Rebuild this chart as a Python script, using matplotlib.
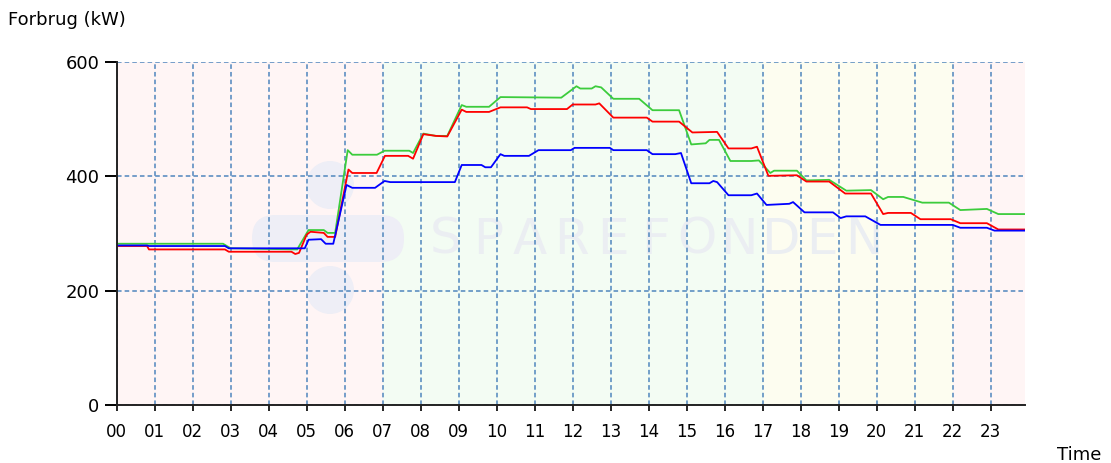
import matplotlib.pyplot as plt
from matplotlib.patches import Circle, FancyBboxPatch

# Consumption per hour of day (kW), breakpoints
GREEN_T = [0, 2.8, 3.0, 4.75, 5.05, 5.45, 5.55, 5.75, 6.08, 6.2, 6.85, 7.05, 7.7,
           7.8, 8.07, 8.4, 8.7, 9.08, 9.2, 9.8, 10.1, 11.7, 12.1, 12.2, 12.5, 12.6,
           12.75, 13.07, 13.75, 14.1, 14.8, 15.12, 15.5, 15.6, 15.85, 16.15, 16.7,
           16.9, 17.2, 17.3, 17.9, 18.15, 18.75, 19.2, 19.85, 20.17, 20.3, 20.7,
           21.2, 21.9, 22.2, 22.9, 23.2, 23.9]
GREEN_V = [282, 282, 274, 272, 306, 306, 301, 301, 446, 438, 438, 445, 445,
           441, 475, 471, 471, 525, 522, 522, 539, 538, 558, 554, 554, 558,
           556, 536, 536, 516, 516, 456, 458, 464, 464, 427, 427,
           428, 406, 410, 410, 393, 394, 375, 376, 360, 364, 364,
           354, 354, 341, 343, 334, 334]

RED_T = [0, 0.8, 0.85, 2.85, 2.95, 4.6, 4.7, 4.8, 5.0, 5.1, 5.45, 5.55, 5.75,
         6.1, 6.2, 6.84, 7.06, 7.67, 7.8, 8.07, 8.4, 8.7, 9.08, 9.2, 9.8, 10.1,
         10.8, 10.9, 11.85, 12.0, 12.6, 12.7, 13.07, 13.95, 14.1, 14.8, 15.15,
         15.8, 16.1, 16.7, 16.85, 17.15, 17.9, 18.15, 18.75, 19.17, 19.85, 20.17,
         20.3, 20.9, 21.15, 21.95, 22.2, 22.9, 23.2, 23.9]
RED_V = [278, 278, 272, 272, 268, 268, 264, 266, 298, 303, 301, 294, 294,
         412, 406, 406, 436, 436, 431, 474, 471, 470, 517, 513, 513, 521,
         521, 518, 518, 526, 526, 528, 503, 503, 496, 496, 477,
         478, 449, 449, 452, 401, 402, 391, 391, 370, 370, 334,
         336, 336, 325, 325, 318, 318, 307, 307]

BLUE_T = [0, 0.8, 0.85, 2.85, 2.95, 4.95, 5.05, 5.38, 5.5, 5.7, 6.05, 6.2, 6.8,
          7.05, 7.2, 8.9, 9.08, 9.6, 9.7, 9.85, 10.1, 10.2, 10.85, 11.1, 11.95,
          12.05, 12.98, 13.07, 13.95, 14.1, 14.7, 14.85, 15.12, 15.6, 15.7,
          15.8, 16.1, 16.7, 16.85, 17.1, 17.7, 17.8, 18.1, 18.85, 19.05, 19.2,
          19.7, 20.1, 22.0, 22.2, 22.9, 23.1, 23.9]
BLUE_V = [279, 279, 278, 278, 274, 274, 289, 290, 282, 282, 385, 380, 380,
          392, 390, 390, 420, 420, 416, 416, 439, 436, 436, 446, 446,
          450, 450, 446, 446, 439, 439, 441, 388, 388, 392,
          390, 367, 367, 370, 350, 352, 355, 337, 337, 327, 330,
          330, 315, 315, 310, 310, 305, 305]

HOUR_LABELS = [f"{h:02d}" for h in range(24)]
Y_TICKS = [0, 200, 400, 600]

# tariff periods shaded in the background (start, end, colour)
BANDS = [(0, 7, "#fff5f5"), (7, 17, "#f3fcf3"), (17, 22, "#fdfdf0"), (22, 23.9, "#fff5f5")]

WATERMARK = "SPAREFONDEN"
FONT = 13

fig = plt.figure(figsize=(11.11, 4.63), dpi=100)
ax = fig.add_axes([0.105, 0.126, 0.8175, 0.7395])

for start, end, color in BANDS:
    ax.axvspan(start, end, color=color, zorder=0, lw=0)

# faint watermark logo + letters (placed in figure inches so circles stay round)
inch = fig.dpi_scale_trans
for cy in (2.78, 1.73):
    ax.add_patch(Circle((3.3, cy), 0.24, transform=inch, color="#eeeef6",
                        zorder=0.5, lw=0))
ax.add_patch(FancyBboxPatch((2.52, 2.01), 1.52, 0.47, transform=inch,
                            boxstyle="round,pad=0,rounding_size=0.23",
                            color="#eeeef6", zorder=0.5, lw=0))
for i, ch in enumerate(WATERMARK):
    ax.text(4.46 + i * 0.418, 2.23, ch, transform=inch, fontsize=36,
            color="#ebeef2", ha="center", va="center", zorder=0.5)

ax.plot(GREEN_T, GREEN_V, color="#3ccc3c", lw=1.3, zorder=3)
ax.plot(RED_T, RED_V, color="#ff0000", lw=1.3, zorder=4)
ax.plot(BLUE_T, BLUE_V, color="#0000ff", lw=1.3, zorder=5)

ax.set_xlim(0, 23.9)
ax.set_ylim(0, 600)
ax.set_xticks(range(24))
ax.set_xticklabels(HOUR_LABELS)
ax.set_yticks(Y_TICKS)

ax.grid(True, color="#4f86bd", linestyle=(0, (3, 2)), linewidth=1.1, zorder=2)
ax.set_axisbelow(False)
ax.patch.set_alpha(0)

for side in ("top", "right"):
    ax.spines[side].set_visible(False)
for side in ("left", "bottom"):
    ax.spines[side].set_linewidth(1.4)
    ax.spines[side].set_color("#222222")
    ax.spines[side].set_zorder(6)

ax.tick_params(axis="x", length=4, width=1.2, pad=9, labelsize=FONT - 1)
ax.tick_params(axis="y", length=8.5, width=1.4, pad=4, labelsize=FONT)

fig.text(0.007, 0.956, "Forbrug (kW)", fontsize=FONT, ha="left", va="center")
fig.text(0.951, 0.017, "Time", fontsize=FONT, ha="left", va="center")

fig.savefig("out.png", dpi=100)
